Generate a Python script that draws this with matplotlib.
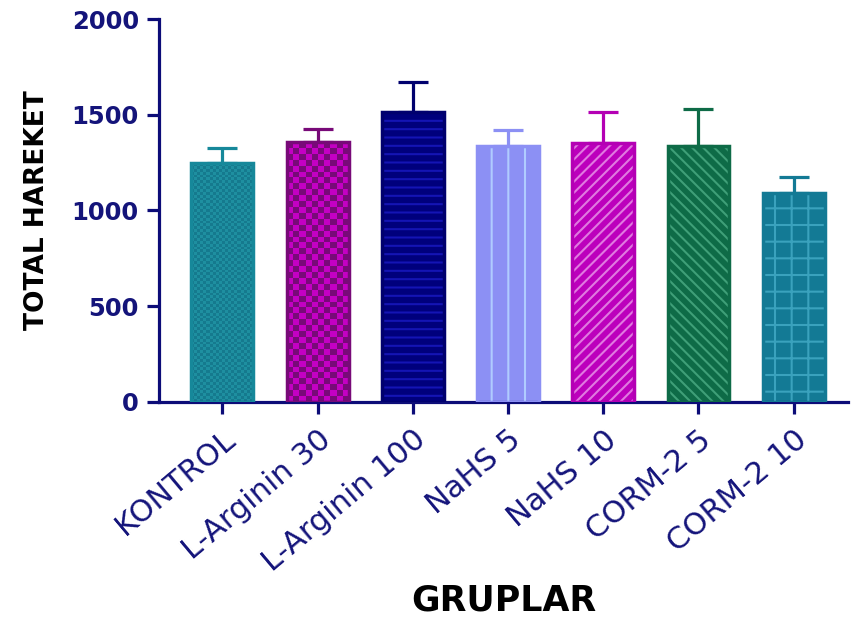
import numpy as np
import matplotlib
matplotlib.use('Agg')
import matplotlib.pyplot as plt
from matplotlib.colors import ListedColormap

# gruplar ve ortalama / SEM degerleri
groups = ['KONTROL', 'L-Arginin 30', 'L-Arginin 100', 'NaHS 5', 'NaHS 10', 'CORM-2 5', 'CORM-2 10']
means = [1246, 1356, 1513, 1337, 1351, 1338, 1093]
sems = [82, 71, 158, 83, 162, 192, 82]

y_ticks = [0, 500, 1000, 1500, 2000]

NAVY = '#14147a'

# fill, edge, hatch rengi, hatch tipi ('checker' -> dama deseni)
styles = [
    dict(face='#1e8fa0', edge='#16889a', hatch_color='#157a8e', hatch='checker', cell=(20, 15)),
    dict(face='#c400c4', edge='#780a78', hatch_color='#780a78', hatch='checker', cell=(10, 31)),
    dict(face='#00007c', edge='#00006e', hatch_color='#1414b4', hatch='--', cell=None),
    dict(face='#8c90f4', edge='#8c90f4', hatch_color='#b0ccff', hatch='|', cell=None),
    dict(face='#bc00bc', edge='#b400b4', hatch_color='#e07ae0', hatch='///', cell=None),
    dict(face='#0e6b47', edge='#0e6b47', hatch_color='#3f9f78', hatch='\\\\\\', cell=None),
    dict(face='#137a95', edge='#137a95', hatch_color='#3aa2bd', hatch='+', cell=None),
]


def add_checker(ax, bar, colors, n_cols, cell_h):
    x0 = bar.get_x()
    w = bar.get_width()
    h = bar.get_height()
    n_rows = max(1, int(round(h / cell_h)))
    grid = np.add.outer(np.arange(n_rows), np.arange(n_cols)) % 2
    im = ax.imshow(grid, cmap=ListedColormap(colors), extent=(x0, x0 + w, 0, h),
                   origin='lower', interpolation='nearest', aspect='auto', zorder=2)
    im.set_clip_path(bar)


def main():
    plt.rcParams['font.family'] = ['DejaVu Sans']
    plt.rcParams['hatch.linewidth'] = 1.5

    fig = plt.figure(figsize=(8.53, 6.19), dpi=100)
    ax = fig.add_axes([0.1864, 0.3506, 0.8077, 0.6187])

    x = np.arange(len(groups))
    width = 0.65

    for i, st in enumerate(styles):
        ax.errorbar(x[i], means[i], yerr=[[0], [sems[i]]], fmt='none',
                    ecolor=st['edge'], elinewidth=2.3, capsize=11, capthick=2.3, zorder=1)
        bar = ax.bar(x[i], means[i], width, color=st['face'], linewidth=0, zorder=2)[0]
        if st['hatch'] == 'checker':
            add_checker(ax, bar, [st['face'], st['hatch_color']], *st['cell'])
        else:
            ax.bar(x[i], means[i], width, facecolor='none', edgecolor=st['hatch_color'],
                   hatch=st['hatch'], linewidth=0, zorder=3)
        ax.bar(x[i], means[i], width, facecolor='none', edgecolor=st['edge'],
               linewidth=2.5, zorder=4)

    ax.set_xlim(-0.665, 6.57)
    ax.set_ylim(0, 2000)
    ax.set_yticks(y_ticks)
    ax.set_xticks(x)
    ax.set_xticklabels(groups, rotation=40, ha='right', va='top',
                       rotation_mode='anchor', fontsize=22, color=NAVY)
    for lab in ax.get_yticklabels():
        lab.set_fontsize(17.5)
        lab.set_fontweight('bold')
        lab.set_color(NAVY)

    for side in ['top', 'right']:
        ax.spines[side].set_visible(False)
    for side in ['left', 'bottom']:
        ax.spines[side].set_color('#0c0c78')
        ax.spines[side].set_linewidth(2.3)
    ax.tick_params(axis='both', colors='#0c0c78', width=2.3, length=8.5)
    ax.tick_params(axis='y', pad=6, labelcolor=NAVY)
    ax.tick_params(axis='x', pad=8, labelcolor=NAVY)

    ax.set_ylabel('TOTAL HAREKET', fontsize=19, fontweight='bold', color='black')
    ax.yaxis.set_label_coords(-0.158, 0.5)
    ax.set_xlabel('GRUPLAR', fontsize=25, fontweight='bold', color='black')
    ax.xaxis.set_label_coords(0.5, -0.475)

    fig.savefig('out.png', dpi=100)


if __name__ == '__main__':
    main()
